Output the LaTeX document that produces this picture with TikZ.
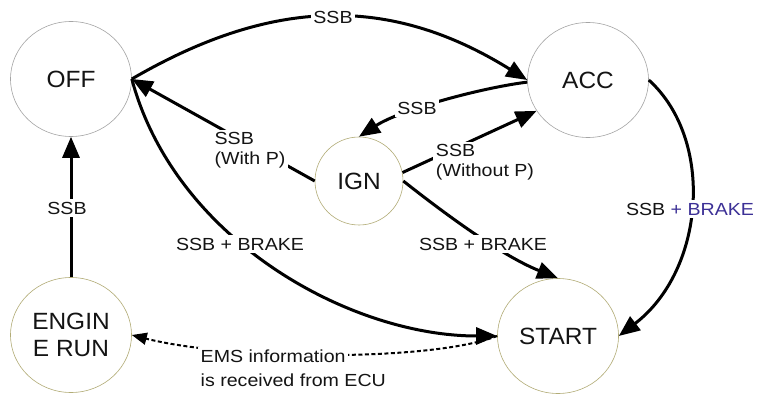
\documentclass[tikz,border=0pt]{standalone}
\usepackage{fontspec}
\setmainfont{Liberation Sans}[FakeStretch=1.04]
\newfontfamily\labfont{Liberation Sans}[FakeStretch=1.12]
\usetikzlibrary{shapes.geometric,arrows.meta}
\definecolor{ringgray}{RGB}{165,165,165}
\definecolor{ringolive}{RGB}{178,172,118}
\definecolor{brakeblue}{RGB}{60,48,150}
\definecolor{ink}{RGB}{20,20,20}
\tikzset{
  state/.style={ellipse, draw, line width=0.6pt, minimum width=121pt, minimum height=115pt,
    inner sep=0pt, align=center, text=ink, font=\fontsize{23.5}{27}\selectfont},
  grayring/.style={draw=ringgray},
  olivering/.style={draw=ringolive},
  trans/.style={line width=3pt, draw=black, -{Triangle[length=21pt,width=17pt]}},
  lbl/.style={font=\labfont\fontsize{17.5}{20}\selectfont, text=ink, fill=white, inner sep=2.5pt, align=left},
  emsline/.style={line width=2pt, draw=black, dash pattern=on 4pt off 2.5pt,
    -{Triangle[length=15pt,width=12pt]}}
}
\begin{document}
\begin{tikzpicture}[x=1pt,y=-1pt]
\path[use as bounding box, fill=white] (0,0) rectangle (770,403);

\node[state,grayring] (OFF) at (71,79) {OFF};
\node[state,grayring] (ACC) at (588,80) {ACC};
\node[state,olivering, minimum width=88pt, minimum height=88pt] (IGN) at (359,181) {IGN};
\node[state,olivering] (ENG) at (71,335) {ENGIN\\E RUN};
\node[state,olivering] (START) at (558,336) {START};

\draw[trans] (OFF.east) .. controls (271,-2) and (389,-6) .. (ACC.west);
\draw[trans] (ACC.182) .. controls (480,88) and (400,110) .. (IGN.north);
\draw[trans] (IGN.west) -- (OFF.east);
\draw[trans] (IGN.11) -- (ACC.211);
\draw[trans] (IGN.east) .. controls (440,210) and (500,255) .. (START.north);
\draw[trans] (OFF.east) .. controls (175,240) and (350,336) .. (START.west);
\draw[trans] (ACC.east) .. controls (715,140) and (705,270) .. (START.east);
\draw[trans] (ENG.north) -- (OFF.south);
\draw[emsline] (START.west) .. controls (430,362) and (230,360) .. (ENG.east);

\node[lbl] (l1) at (333,17) {SSB};
\node[lbl] (l2) at (417,108) {SSB};
\node[lbl] (l3) at (250,150) {SSB\\(With P)};
\node[lbl] (l4) at (485,162) {SSB\\(Without P)};
\node[lbl] (l5) at (483,244) {SSB + BRAKE};
\node[lbl] (l6) at (240,244) {SSB + BRAKE};
\node[lbl] (l7) at (690,209) {SSB \textcolor{brakeblue}{+ BRAKE}};
\node[lbl] (l8) at (67,208) {SSB};
\node[lbl, anchor=base west] (ems1) at (198,362) {EMS information};
\node[lbl, fill=none, anchor=base west] (ems2) at (198,386) {is received from ECU};
\end{tikzpicture}
\end{document}
